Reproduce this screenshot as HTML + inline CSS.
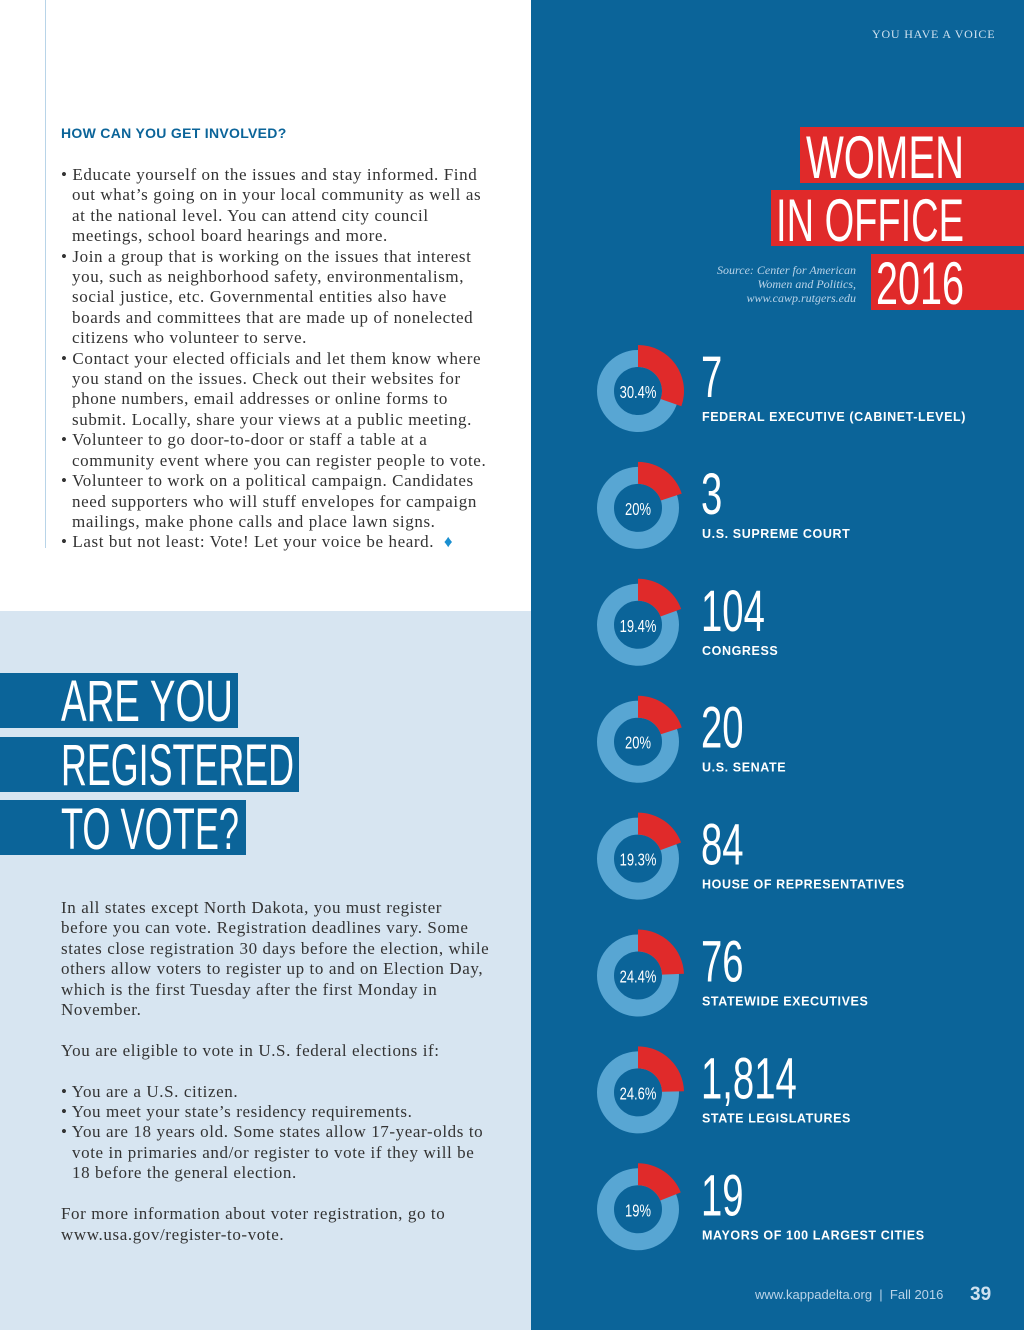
<!DOCTYPE html>
<html><head><meta charset="utf-8"><style>
body{margin:0;width:1024px;height:1330px;position:relative;overflow:hidden;background:#fff;font-family:"Liberation Serif",serif}
.abs{position:absolute}
.body{font-family:"Liberation Serif",serif;font-size:17px;letter-spacing:0.6px;color:#333;line-height:20.4px;white-space:nowrap}
.ind{padding-left:11px}
</style></head><body>
<div class="abs" style="left:0;top:0;width:531px;height:611px;background:#fff"></div>
<div class="abs" style="left:45px;top:0;width:1px;height:548px;background:#b8d4e8"></div>
<div class="abs" style="left:0;top:611px;width:531px;height:719px;background:#d7e5f1"></div>
<div class="abs" style="left:531px;top:0;width:493px;height:1330px;background:#0b6499"></div>

<div class="abs" style="left:61px;top:125px;font-family:'Liberation Sans',sans-serif;font-weight:bold;font-size:14px;color:#0b6499;letter-spacing:0.3px">HOW CAN YOU GET INVOLVED?</div>
<div class="abs body" style="left:61px;top:165px">
<div>• Educate yourself on the issues and stay informed. Find</div>
<div class="ind">out what’s going on in your local community as well as</div>
<div class="ind">at the national level. You can attend city council</div>
<div class="ind">meetings, school board hearings and more.</div>
<div>• Join a group that is working on the issues that interest</div>
<div class="ind">you, such as neighborhood safety, environmentalism,</div>
<div class="ind">social justice, etc. Governmental entities also have</div>
<div class="ind">boards and committees that are made up of nonelected</div>
<div class="ind">citizens who volunteer to serve.</div>
<div>• Contact your elected officials and let them know where</div>
<div class="ind">you stand on the issues. Check out their websites for</div>
<div class="ind">phone numbers, email addresses or online forms to</div>
<div class="ind">submit. Locally, share your views at a public meeting.</div>
<div>• Volunteer to go door-to-door or staff a table at a</div>
<div class="ind">community event where you can register people to vote.</div>
<div>• Volunteer to work on a political campaign. Candidates</div>
<div class="ind">need supporters who will stuff envelopes for campaign</div>
<div class="ind">mailings, make phone calls and place lawn signs.</div>
<div>• Last but not least: Vote! Let your voice be heard. <span style="color:#1a8fd0">&nbsp;♦</span></div>
</div>

<svg class="abs" style="left:0;top:0" width="531" height="1330">
<rect x="0" y="673" width="238" height="55" fill="#0b6499"/>
<rect x="0" y="737" width="299" height="55" fill="#0b6499"/>
<rect x="0" y="800" width="246" height="55" fill="#0b6499"/>
<g fill="#fff" font-family="Liberation Sans,sans-serif" font-size="58">
<text x="61" y="721" textLength="172" lengthAdjust="spacingAndGlyphs">ARE YOU</text>
<text x="61" y="785" textLength="233" lengthAdjust="spacingAndGlyphs">REGISTERED</text>
<text x="61" y="849" textLength="178" lengthAdjust="spacingAndGlyphs">TO VOTE?</text>
</g></svg>

<div class="abs body" style="left:61px;top:898px">
<div>In all states except North Dakota, you must register</div>
<div>before you can vote. Registration deadlines vary. Some</div>
<div>states close registration 30 days before the election, while</div>
<div>others allow voters to register up to and on Election Day,</div>
<div>which is the first Tuesday after the first Monday in</div>
<div>November.</div>
<div>&nbsp;</div>
<div>You are eligible to vote in U.S. federal elections if:</div>
<div>&nbsp;</div>
<div>• You are a U.S. citizen.</div>
<div>• You meet your state’s residency requirements.</div>
<div>• You are 18 years old. Some states allow 17-year-olds to</div>
<div class="ind">vote in primaries and/or register to vote if they will be</div>
<div class="ind">18 before the general election.</div>
<div>&nbsp;</div>
<div>For more information about voter registration, go to</div>
<div>www.usa.gov/register-to-vote.</div>
</div>

<div class="abs" style="left:872px;top:27px;font-family:'Liberation Serif',serif;font-size:12px;color:#cfe1ef;letter-spacing:0.8px">YOU HAVE A VOICE</div>

<svg class="abs" style="left:531px;top:0" width="493" height="330">
<rect x="269" y="127" width="224" height="56" fill="#e02a2a"/>
<rect x="240" y="190" width="253" height="56" fill="#e02a2a"/>
<rect x="340" y="254" width="153" height="56" fill="#e02a2a"/>
<g fill="#fff" font-family="Liberation Sans,sans-serif" font-size="60">
<text x="275" y="178" textLength="158" lengthAdjust="spacingAndGlyphs">WOMEN</text>
<text x="245" y="241" textLength="188" lengthAdjust="spacingAndGlyphs">IN OFFICE</text>
<text x="345" y="304" textLength="88" lengthAdjust="spacingAndGlyphs">2016</text>
</g>
<g fill="#b9d3e8" font-family="Liberation Serif,serif" font-style="italic" font-size="12" text-anchor="end">
<text x="325" y="274">Source: Center for American</text>
<text x="325" y="288">Women and Politics,</text>
<text x="325" y="302">www.cawp.rutgers.edu</text>
</g></svg>

<svg id="stats" class="abs" style="left:531px;top:330px" width="493" height="1000"></svg>

<div class="abs" style="left:755px;top:1287px;font-family:'Liberation Sans',sans-serif;font-size:13px;color:#b9d3e8">www.kappadelta.org &nbsp;|&nbsp; Fall 2016</div>
<div class="abs" style="left:970px;top:1284px;font-family:'Liberation Sans',sans-serif;font-size:19px;font-weight:bold;color:#cfe1ef">39</div>

<script>
const categories=["FEDERAL EXECUTIVE (CABINET-LEVEL)","U.S. SUPREME COURT","CONGRESS","U.S. SENATE","HOUSE OF REPRESENTATIVES","STATEWIDE EXECUTIVES","STATE LEGISLATURES","MAYORS OF 100 LARGEST CITIES"];
const counts=["7","3","104","20","84","76","1,814","19"];
const percents=[30.4,20,19.4,20,19.3,24.4,24.6,19];
const pctLabels=["30.4%","20%","19.4%","20%","19.3%","24.4%","24.6%","19%"];
const svg=document.getElementById('stats');
const NS='http://www.w3.org/2000/svg';
const cx=107,y0=61,step=116.9;
function yPos(i){return y0+i*step;}
function ang(p){return p/100*2*Math.PI;}
function mk(t,a,parent){const e=document.createElementNS(NS,t);for(const k in a)e.setAttribute(k,a[k]);(parent||svg).appendChild(e);return e;}
categories.forEach((c,i)=>{
 const cy=yPos(i);
 const ring=mk('circle',{cx:cx,cy:cy,r:32.5,fill:'none',stroke:'#58a6d3','stroke-width':17});
 
 
 const a=ang(percents[i]),R=46,r=24;
 const x1=cx+R*Math.sin(a),y1=cy-R*Math.cos(a),x2=cx+r*Math.sin(a),y2=cy-r*Math.cos(a);
 const lg=a>Math.PI?1:0;
 const w=mk('path',{d:`M${cx},${cy-R} A${R},${R} 0 ${lg} 1 ${x1},${y1} L${x2},${y2} A${r},${r} 0 ${lg} 0 ${cx},${cy-r} Z`,fill:'#e02a2a'});
 
 
 const pg=mk('g',{transform:`translate(${cx},${cy+7}) scale(0.72,1)`});
 const pl=mk('text',{x:0,y:0,'text-anchor':'middle',fill:'#fff','font-family':'Liberation Sans,sans-serif','font-size':18},pg);
 pl.textContent=pctLabels[i];
 
 
 const ng=mk('g',{transform:`translate(170,${cy+6}) scale(0.66,1)`});
 const n=mk('text',{x:0,y:0,fill:'#fff','font-family':'Liberation Sans,sans-serif','font-size':58},ng);
 n.textContent=counts[i];
 
 
 const l=mk('text',{x:171,y:cy+30,fill:'#fff','font-family':'Liberation Sans,sans-serif','font-size':12.5,'font-weight':'bold','letter-spacing':0.6});
 l.textContent=c;
 
 
});
</script>
</body></html>
